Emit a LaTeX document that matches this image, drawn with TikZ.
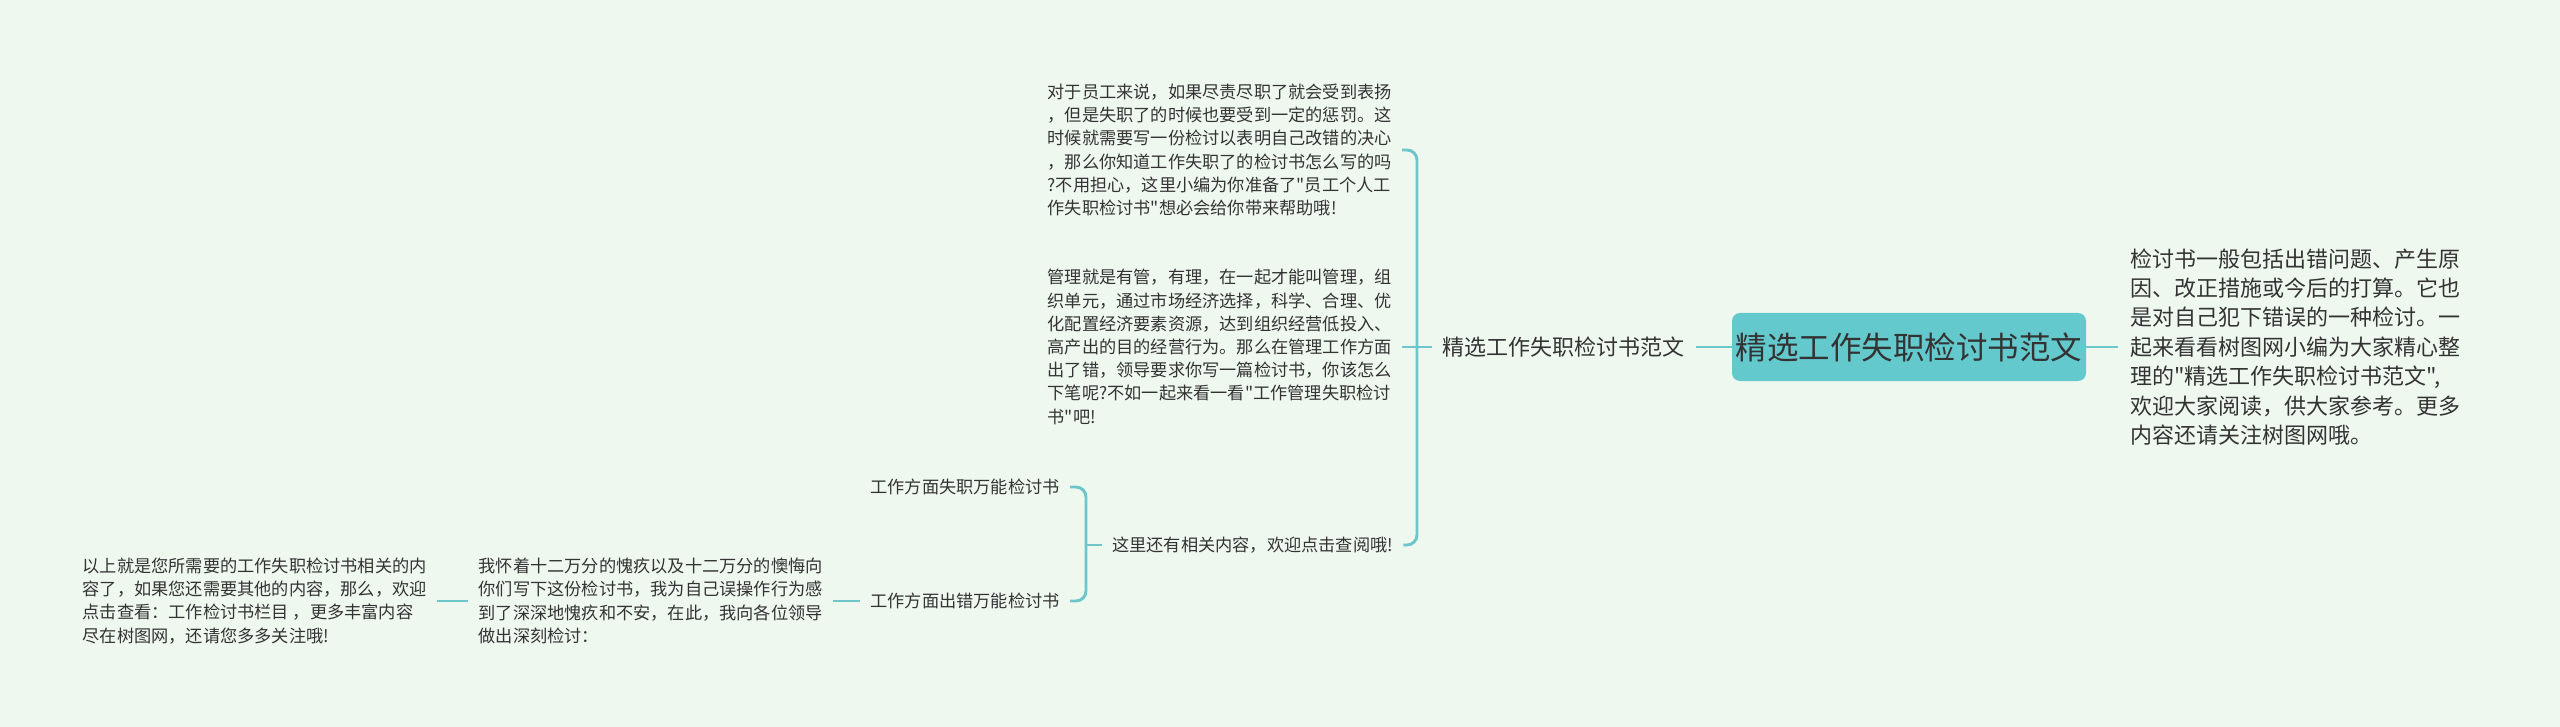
\documentclass[tikz,border=0pt]{standalone}
\usepackage{fontspec}
\setmainfont{Noto Sans CJK SC}[Ligatures=TeXOff]
\definecolor{bgc}{HTML}{EFF8EF}
\definecolor{linec}{HTML}{6CC6CA}
\definecolor{rootc}{HTML}{63C9CD}
\definecolor{txtc}{HTML}{333333}
\tikzset{
  conn/.style={draw=linec, line width=2.2pt},
  small/.style={inner xsep=7.5pt, inner ysep=0pt, align=left, text=txtc, font={\fontsize{12.9pt}{17.4pt}\selectfont}},
  mid/.style={inner xsep=8pt, inner ysep=0pt, align=left, text=txtc, font={\fontsize{16.5pt}{22.1pt}\selectfont}},
  rootbox/.style={fill=rootc, rounded corners=6pt, minimum width=265.5pt, minimum height=51pt, inner sep=0pt, text=txtc, font={\fontsize{23.6pt}{28pt}\selectfont}},
}
\begin{document}
\begin{tikzpicture}[x=0.75pt,y=-0.75pt]
\fill[bgc] (0,0) rectangle (2560,727);
\useasboundingbox (0,0) rectangle (2560,727);

\node[rootbox] (root) at (1909,347) {精选工作失职检讨书范文};
\node[mid, anchor=west, inner xsep=9pt] (desc) at (2118,347) {检讨书一般包括出错问题、产生原\\因、改正措施或今后的打算。它也\\是对自己犯下错误的一种检讨。一\\起来看看树图网小编为大家精心整\\理的"精选工作失职检讨书范文",\\欢迎大家阅读，供大家参考。更多\\内容还请关注树图网哦。};
\node[mid, anchor=west] (l1) at (1432,347) {精选工作失职检讨书范文};

\node[small, anchor=east] (b1) at (1402,150) {对于员工来说，如果尽责尽职了就会受到表扬\\，但是失职了的时候也要受到一定的惩罚。这\\时候就需要写一份检讨以表明自己改错的决心\\，那么你知道工作失职了的检讨书怎么写的吗\\?不用担心，这里小编为你准备了"员工个人工\\作失职检讨书"想必会给你带来帮助哦!};
\node[small, anchor=east] (b2) at (1402,347) {管理就是有管，有理，在一起才能叫管理，组\\织单元，通过市场经济选择，科学、合理、优\\化配置经济要素资源，达到组织经营低投入、\\高产出的目的经营行为。那么在管理工作方面\\出了错，领导要求你写一篇检讨书，你该怎么\\下笔呢?不如一起来看一看"工作管理失职检讨\\书"吧!};
\node[small, anchor=west] (b3) at (1102,545) {这里还有相关内容，欢迎点击查阅哦!};

\node[small, anchor=east] (c1) at (1070,487) {工作方面失职万能检讨书};
\node[small, anchor=east] (c2) at (1070,601) {工作方面出错万能检讨书};
\node[small, anchor=east] (d1) at (833,601) {我怀着十二万分的愧疚以及十二万分的懊悔向\\你们写下这份检讨书，我为自己误操作行为感\\到了深深地愧疚和不安，在此，我向各位领导\\做出深刻检讨：};
\node[small, anchor=east] (e1) at (437,601) {以上就是您所需要的工作失职检讨书相关的内\\容了，如果您还需要其他的内容，那么，欢迎\\点击查看：工作检讨书栏目 ，更多丰富内容\\尽在树图网，还请您多多关注哦!};

\coordinate (k1) at (1417,347);
\coordinate (k2) at (1086,545);

\draw[conn] (root.east) -- (desc.west);
\draw[conn] (l1.east) -- (root.west);
\draw[conn, rounded corners=7.5pt] (b1.east) -- (k1 |- b1.east) -- (k1 |- b3.east) -- (b3.east);
\draw[conn] (b2.east) -- (l1.west);
\draw[conn, rounded corners=7.5pt] (c1.east) -- (k2 |- c1.east) -- (k2 |- c2.east) -- (c2.east);
\draw[conn] (k2) -- (b3.west);
\draw[conn] (d1.east) -- (c2.west);
\draw[conn] (e1.east) -- (d1.west);
\end{tikzpicture}
\end{document}
